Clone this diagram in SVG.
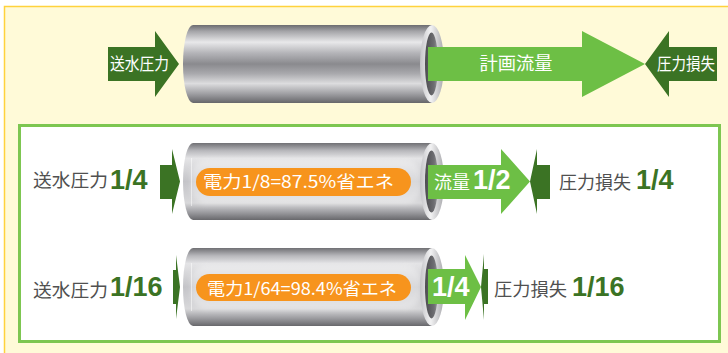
<svg xmlns="http://www.w3.org/2000/svg" width="728" height="353" viewBox="0 0 728 353">
  <defs>
    <linearGradient id="pipeBody" x1="0" y1="0" x2="0" y2="1">
      <stop offset="0" stop-color="#6c6c70"/>
      <stop offset="0.08" stop-color="#a4a4a8"/>
      <stop offset="0.22" stop-color="#e8e8ea"/>
      <stop offset="0.36" stop-color="#b4b4b8"/>
      <stop offset="0.5" stop-color="#8a8a8e"/>
      <stop offset="0.62" stop-color="#a8a8ac"/>
      <stop offset="0.75" stop-color="#dcdcde"/>
      <stop offset="0.88" stop-color="#a0a0a4"/>
      <stop offset="1" stop-color="#66666a"/>
    </linearGradient>
    <linearGradient id="pipeBodySoft" x1="0" y1="0" x2="0" y2="1">
      <stop offset="0" stop-color="#707074"/>
      <stop offset="0.1" stop-color="#b8b8bc"/>
      <stop offset="0.2" stop-color="#e4e4e6"/>
      <stop offset="0.5" stop-color="#c4c4c8"/>
      <stop offset="0.78" stop-color="#d8d8da"/>
      <stop offset="0.9" stop-color="#9c9ca0"/>
      <stop offset="1" stop-color="#68686c"/>
    </linearGradient>
    <linearGradient id="ring" x1="0" y1="0" x2="1" y2="0">
      <stop offset="0" stop-color="#c4c4c8"/>
      <stop offset="0.45" stop-color="#f2f2f3"/>
      <stop offset="1" stop-color="#a8a8ac"/>
    </linearGradient>
    <linearGradient id="bore" x1="0" y1="0" x2="1" y2="0">
      <stop offset="0" stop-color="#4c4c50"/>
      <stop offset="0.7" stop-color="#6e6e72"/>
      <stop offset="1" stop-color="#9a9a9e"/>
    </linearGradient>
    <filter id="soft" x="-10%" y="-30%" width="120%" height="160%">
      <feGaussianBlur stdDeviation="2.5"/>
    </filter>
  </defs>
  <style>
    .jp { font-family: "Noto Sans CJK JP", "Noto Sans", sans-serif; }
    .num { font-family: "Liberation Sans", Arial, sans-serif; font-weight: bold; font-size: 27px; }
    .dark { fill: #3b7324; }
    .light { fill: #6dbf45; }
    .white { fill: #ffffff; }
    .gray { fill: #505050; }
    .pill { fill: #f7941d; }
  </style>

  <!-- page background -->
  <rect x="0" y="0" width="728" height="353" fill="#ffffff"/>
  <rect x="4.5" y="6.5" width="740" height="360" fill="#fffad8" stroke="#ffd23c" stroke-width="1.5"/>

  <!-- standard flow: pipe with inlet pressure, flow and pressure loss -->
  <g id="top-pipe">
    <path d="M193 25 L432 25 L432 103 L193 103 A10 39 0 0 1 193 25 Z" fill="url(#pipeBody)"/>
    <ellipse cx="432" cy="64" rx="12" ry="39" fill="url(#ring)"/>
    <ellipse cx="431.5" cy="64" rx="6.5" ry="31.5" fill="url(#bore)"/>
  </g>
  <g id="top-inlet">
    <polygon class="dark" points="108,47 155,47 155,31 179,64 155,97 155,81 108,81"/>
    <text class="jp white" x="139.5" y="70" font-size="17" text-anchor="middle" textLength="59" lengthAdjust="spacingAndGlyphs">送水圧力</text>
  </g>
  <g id="top-flow">
    <polygon class="light" points="428,47 582,47 582,31 645,64 582,97 582,81 428,81"/>
    <text class="jp white" x="516" y="70" font-size="18" text-anchor="middle" textLength="73" lengthAdjust="spacingAndGlyphs">計画流量</text>
  </g>
  <g id="top-loss">
    <polygon class="dark" points="645,64 669,31 669,47 717,47 717,81 669,81 669,97"/>
    <text class="jp white" x="686" y="70" font-size="17" text-anchor="middle" textLength="58" lengthAdjust="spacingAndGlyphs">圧力損失</text>
  </g>

  <!-- reduced-flow comparison panel -->
  <g id="panel">
    <rect x="19.5" y="125.5" width="700" height="216" fill="#ffffff" stroke="#7dc651" stroke-width="3"/>
  </g>

  <!-- row 1: half flow -->
  <g id="row1-pipe">
    <path d="M193 143 L432 143 L432 220 L193 220 A10 38.5 0 0 1 193 143 Z" fill="url(#pipeBodySoft)"/>
    <rect x="191" y="160" width="230" height="44" rx="16" fill="#ffffff" opacity="0.35" filter="url(#soft)"/>
    <line x1="191.5" y1="158" x2="191.5" y2="206" stroke="#ffffff" stroke-opacity="0.5"/>
    <ellipse cx="432" cy="181.5" rx="12" ry="38.5" fill="url(#ring)"/>
    <ellipse cx="431.5" cy="181.5" rx="6.5" ry="31" fill="url(#bore)"/>
    <rect class="pill" x="196" y="168" width="215" height="28" rx="14"/>
    <text class="jp white" x="203" y="188" font-size="17" textLength="191" lengthAdjust="spacingAndGlyphs">電力1/8=87.5%省エネ</text>
  </g>
  <g id="row1-inlet">
    <polygon class="dark" points="160,165 172,165 172,149 180,181.5 172,214 172,199 160,199"/>
    <text class="jp gray" x="33" y="187" font-size="18.5" textLength="75" lengthAdjust="spacingAndGlyphs">送水圧力</text>
    <text class="num dark" x="110" y="189">1/4</text>
  </g>
  <g id="row1-flow">
    <polygon class="light" points="428,165 501,165 501,149 530,181.5 501,214 501,199 428,199"/>
    <text class="jp white" x="434" y="189" font-size="18" textLength="36" lengthAdjust="spacingAndGlyphs">流量</text>
    <text class="num white" x="473" y="189">1/2</text>
  </g>
  <g id="row1-loss">
    <polygon class="dark" points="530,181.5 537,149 537,165 550,165 550,199 537,199 537,214"/>
    <text class="jp gray" x="559" y="189" font-size="18" textLength="72" lengthAdjust="spacingAndGlyphs">圧力損失</text>
    <text class="num dark" x="636" y="189">1/4</text>
  </g>

  <!-- row 2: quarter flow -->
  <g id="row2-pipe">
    <path d="M193 248 L432 248 L432 326 L193 326 A10 39 0 0 1 193 248 Z" fill="url(#pipeBodySoft)"/>
    <rect x="191" y="265" width="230" height="44" rx="16" fill="#ffffff" opacity="0.35" filter="url(#soft)"/>
    <line x1="191.5" y1="263" x2="191.5" y2="311" stroke="#ffffff" stroke-opacity="0.5"/>
    <ellipse cx="432" cy="287" rx="12" ry="39" fill="url(#ring)"/>
    <ellipse cx="431.5" cy="287" rx="6.5" ry="31.5" fill="url(#bore)"/>
    <rect class="pill" x="196" y="274" width="215" height="27" rx="13.5"/>
    <text class="jp white" x="207" y="295" font-size="17" textLength="190" lengthAdjust="spacingAndGlyphs">電力1/64=98.4%省エネ</text>
  </g>
  <g id="row2-inlet">
    <polygon class="dark" points="173,270 176,270 176,255 180,287 176,319 176,304 173,304"/>
    <text class="jp gray" x="33" y="297" font-size="18.5" textLength="75" lengthAdjust="spacingAndGlyphs">送水圧力</text>
    <text class="num dark" x="110" y="296">1/16</text>
  </g>
  <g id="row2-flow">
    <polygon class="light" points="428,269 465,269 465,255 481,287 465,320 465,304 428,304"/>
    <text class="num white" x="432" y="296">1/4</text>
  </g>
  <g id="row2-loss">
    <polygon class="dark" points="481,287 484,254 484,269 488,269 488,304 484,304 484,320"/>
    <text class="jp gray" x="494" y="296" font-size="18" textLength="73" lengthAdjust="spacingAndGlyphs">圧力損失</text>
    <text class="num dark" x="572" y="296">1/16</text>
  </g>

  <g id="connectors"/>
</svg>
